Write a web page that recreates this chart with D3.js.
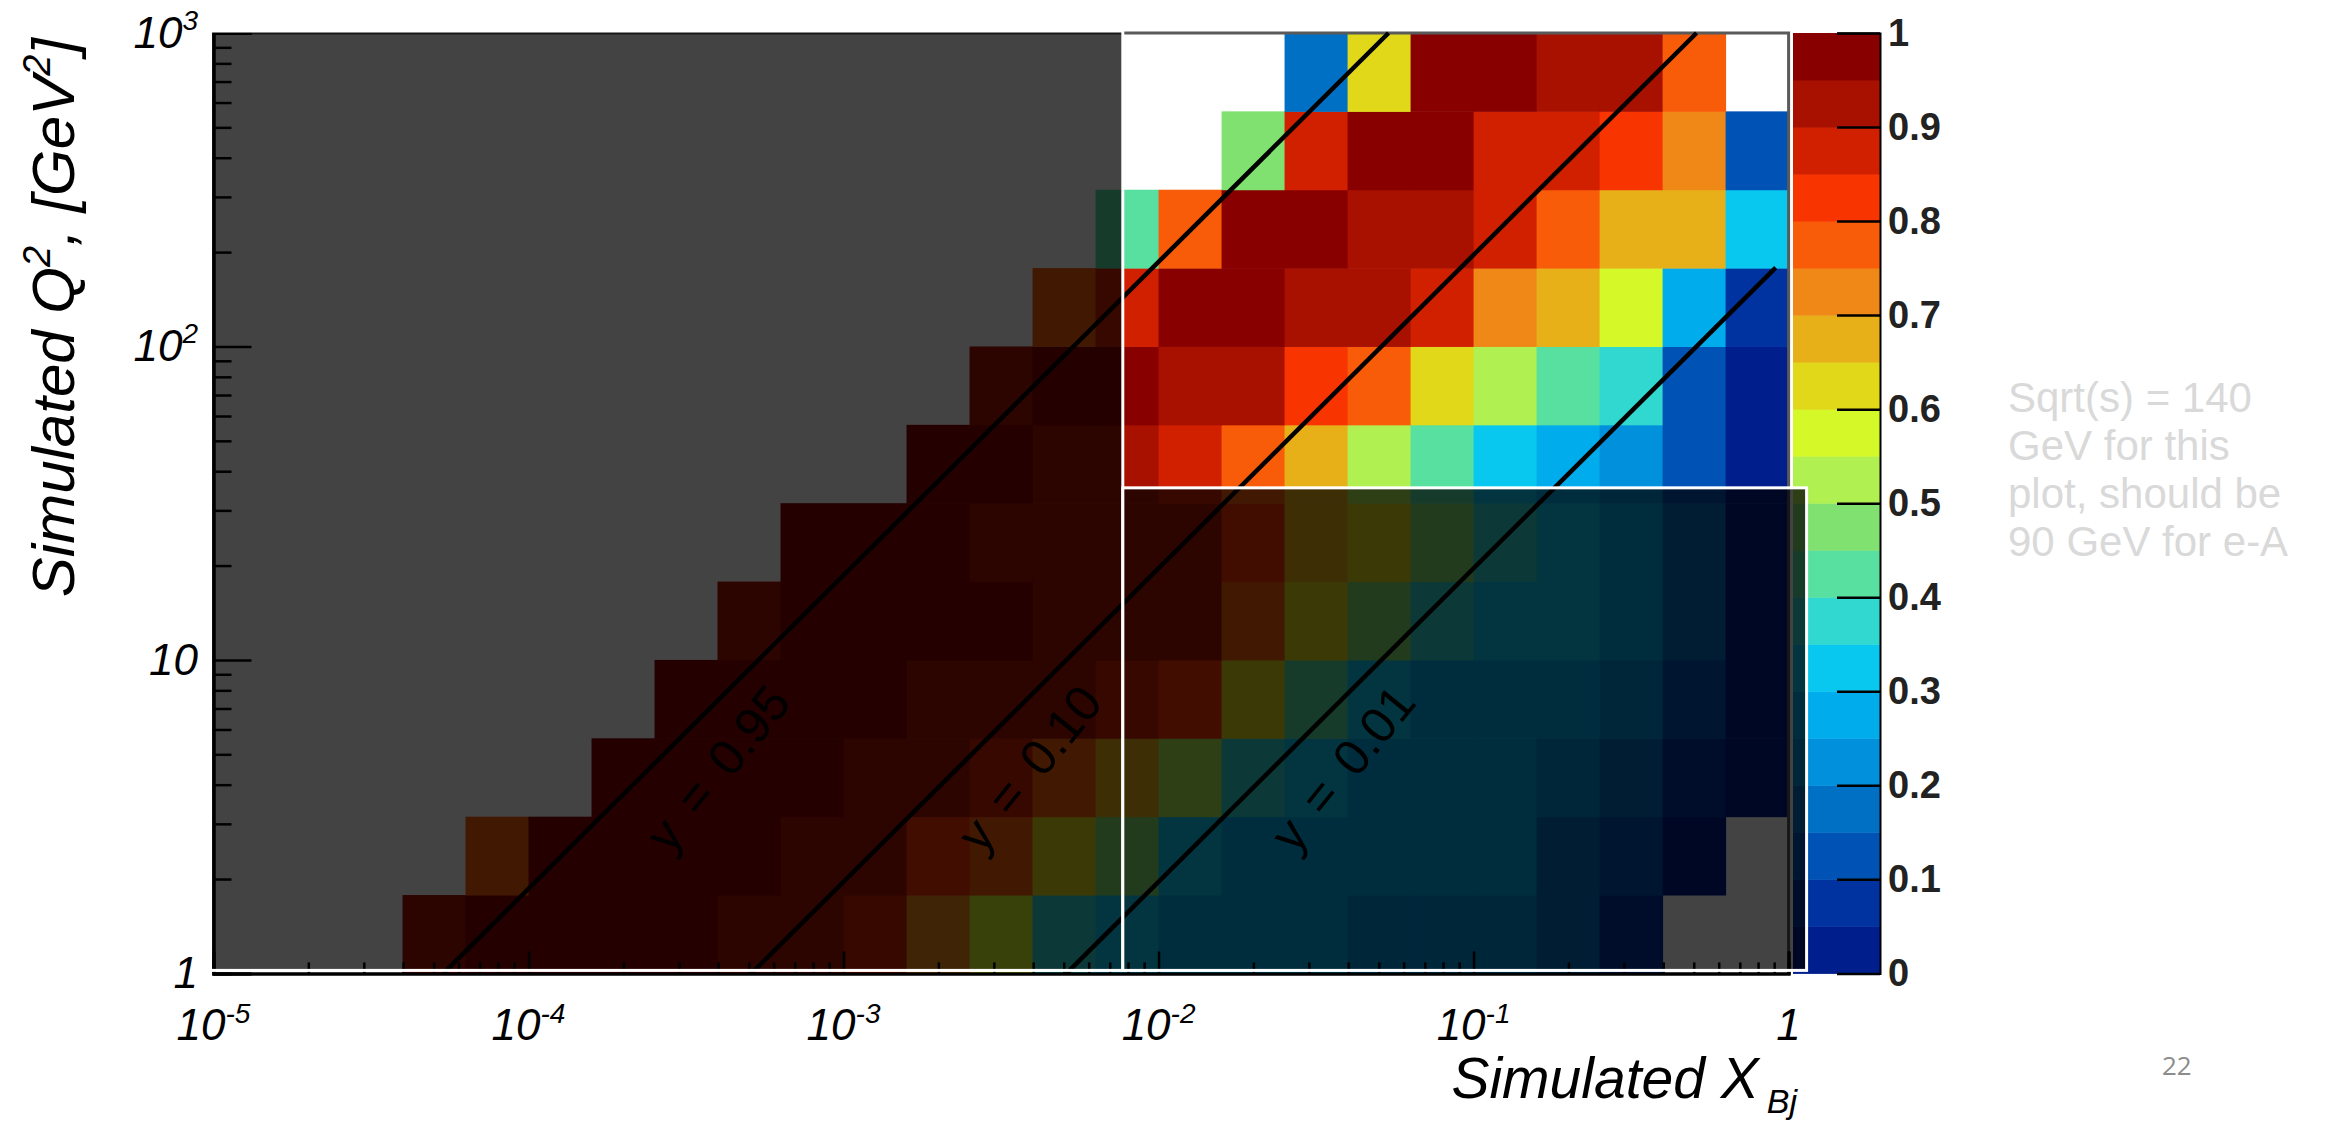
<!DOCTYPE html>
<html>
<head>
<meta charset="utf-8">
<script src="https://cdn.jsdelivr.net/npm/d3@7"></script>
<style>
  body { margin: 0; background: #fff; }
  svg text { font-family: "Liberation Sans", Arial, sans-serif; }
</style>
</head>
<body>
<div id="chart"></div>
<script>
// histogram binning (log10 of bin edges)
var xEdgeExp = [-5, -4.8, -4.6, -4.4, -4.2, -4, -3.8, -3.6, -3.4, -3.2, -3, -2.8, -2.6,
                -2.4, -2.2, -2, -1.8, -1.6, -1.4, -1.2, -1, -0.8, -0.6, -0.4, -0.2, 0];
var q2EdgeExp = [0, 0.25, 0.5, 0.75, 1, 1.25, 1.5, 1.75, 2, 2.25, 2.5, 2.75, 3];

// bin contents, one array per Q2 row (lowest Q2 first), null = empty bin
var n = null;
var q2Row0  = [n, n, n, 0.92, 0.95, 0.97, 0.97, 0.97, 0.93, 0.90, 0.87, 0.70, 0.55, 0.37, 0.32, 0.28, 0.27, 0.27, 0.23, 0.20, 0.20, 0.17, 0.07, n, n];
var q2Row1  = [n, n, n, n, 0.78, 0.97, 0.97, 0.97, 0.97, 0.93, 0.93, 0.83, 0.77, 0.62, 0.45, 0.33, 0.27, 0.27, 0.27, 0.25, 0.25, 0.18, 0.12, 0.03, n];
var q2Row2  = [n, n, n, n, n, n, 0.97, 0.97, 0.97, 0.97, 0.93, 0.93, 0.87, 0.77, 0.67, 0.53, 0.35, 0.30, 0.28, 0.27, 0.27, 0.24, 0.17, 0.05, 0.03];
var q2Row3  = [n, n, n, n, n, n, n, 0.97, 0.97, 0.97, 0.97, 0.93, 0.93, 0.90, 0.88, 0.82, 0.62, 0.42, 0.32, 0.28, 0.27, 0.27, 0.23, 0.13, 0.03];
var q2Row4  = [n, n, n, n, n, n, n, n, 0.93, 0.97, 0.97, 0.97, 0.97, 0.93, 0.92, 0.90, 0.78, 0.62, 0.47, 0.37, 0.32, 0.30, 0.27, 0.15, 0.03];
var q2Row5  = [n, n, n, n, n, n, n, n, n, 0.95, 0.97, 0.97, 0.93, 0.93, 0.93, 0.92, 0.82, 0.67, 0.62, 0.45, 0.38, 0.30, 0.27, 0.15, 0.03];
var q2Row6  = [n, n, n, n, n, n, n, n, n, n, n, 0.97, 0.97, 0.93, 0.92, 0.87, 0.78, 0.67, 0.52, 0.42, 0.32, 0.28, 0.22, 0.13, 0.03];
var q2Row7  = [n, n, n, n, n, n, n, n, n, n, n, n, 0.90, 0.97, 0.96, 0.92, 0.92, 0.82, 0.78, 0.62, 0.52, 0.42, 0.37, 0.13, 0.02];
var q2Row8  = [n, n, n, n, n, n, n, n, n, n, n, n, n, 0.78, 0.88, 0.96, 0.96, 0.92, 0.92, 0.87, 0.72, 0.67, 0.57, 0.28, 0.08];
var q2Row9  = [n, n, n, n, n, n, n, n, n, n, n, n, n, n, 0.42, 0.78, 0.97, 0.97, 0.92, 0.92, 0.87, 0.78, 0.67, 0.67, 0.32];
var q2Row10 = [n, n, n, n, n, n, n, n, n, n, n, n, n, n, n, n, 0.47, 0.87, 0.97, 0.97, 0.87, 0.87, 0.82, 0.72, 0.12];
var q2Row11 = [n, n, n, n, n, n, n, n, n, n, n, n, n, n, n, n, n, 0.18, 0.62, 0.97, 0.97, 0.92, 0.92, 0.78, n];
var q2Rows = [q2Row0, q2Row1, q2Row2, q2Row3, q2Row4, q2Row5, q2Row6, q2Row7, q2Row8, q2Row9, q2Row10, q2Row11];

// constant-inelasticity lines Q2 = x*y*s, sqrt(s) = 140 GeV
var sqrtS = 140;
var yValues = [0.95, 0.10, 0.01];
var yLabels = ["y = 0.95", "y = 0.10", "y = 0.01"];
var yLabelX = [4.0e-4, 3.9e-3, 0.0385];
var yLabelQ2 = 4.5;
var lineMaxX = 0.91;

// shaded (dimmed) regions, bright corner starts at these values
var brightMinX = 0.0077;
var brightMinQ2 = 35.4;

var xMajor = [1e-5, 1e-4, 1e-3, 1e-2, 1e-1, 1];
var xMajorExp = ["-5", "-4", "-3", "-2", "-1", ""];
var yMajor = [1, 10, 100, 1000];
var yMajorExp = ["", "", "2", "3"];
var zTicks = [0, 0.1, 0.2, 0.3, 0.4, 0.5, 0.6, 0.7, 0.8, 0.9, 1];

var palette = ["#001e8c", "#0032a0", "#0052b4", "#0070c4", "#0090dc", "#00acec", "#08c8f0",
               "#30d8d0", "#58e0a0", "#80e070", "#b0f050", "#d4f828", "#e0d818", "#e8b018",
               "#f08818", "#f85c08", "#f83400", "#d02000", "#a81000", "#880000"];

var noteLines = ["Sqrt(s) = 140", "GeV for this", "plot, should be", "90 GeV for e-A"];
var pageNumber = "22";

var width = 2341, height = 1123;
var plot = {left: 213.5, right: 1788.6, top: 33, bottom: 973.4};
var pal = {left: 1793, right: 1880};

var svg = d3.select("#chart").append("svg")
    .attr("width", width)
    .attr("height", height);

var x = d3.scaleLog().domain([1e-5, 1]).range([plot.left, plot.right]);
var y = d3.scaleLog().domain([1, 1000]).range([plot.bottom, plot.top]);
var z = d3.scaleLinear().domain([0, 1]).range([plot.bottom, plot.top]);
var color = d3.scaleQuantize().domain([0, 1]).range(palette);

// cells
var cells = [];
q2Rows.forEach(function(row, j) {
  row.forEach(function(v, k) {
    if (v !== null) cells.push({k: k, j: j, v: v});
  });
});
svg.append("g").selectAll("rect")
  .data(cells)
  .enter().append("rect")
    .attr("x", function(d) { return x(Math.pow(10, xEdgeExp[d.k])); })
    .attr("y", function(d) { return y(Math.pow(10, q2EdgeExp[d.j + 1])); })
    .attr("width", function(d) { return x(Math.pow(10, xEdgeExp[d.k + 1])) - x(Math.pow(10, xEdgeExp[d.k])) + 0.5; })
    .attr("height", function(d) { return y(Math.pow(10, q2EdgeExp[d.j])) - y(Math.pow(10, q2EdgeExp[d.j + 1])) + 0.5; })
    .attr("fill", function(d) { return color(d.v); });

// frame top/right
svg.append("path")
  .attr("d", "M" + plot.left + "," + plot.top + "H" + plot.right + "V" + plot.bottom)
  .attr("fill", "none").attr("stroke", "#5a5a5a").attr("stroke-width", 3);

// axes, ticks pointing inward
function minorTicks(lo, hi) {
  var out = [];
  for (var e = lo; e < hi; e++) for (var m = 2; m <= 9; m++) out.push(m * Math.pow(10, e));
  return out;
}
svg.append("g").attr("transform", "translate(0," + plot.bottom + ")")
  .call(d3.axisBottom(x).tickValues(xMajor).tickSize(-22).tickFormat(""));
svg.append("g").attr("transform", "translate(0," + plot.bottom + ")")
  .call(d3.axisBottom(x).tickValues(minorTicks(-5, 0)).tickSize(-11).tickFormat(""));
svg.append("g").attr("transform", "translate(" + plot.left + ",0)")
  .call(d3.axisLeft(y).tickValues(yMajor).tickSize(-38).tickFormat(""));
svg.append("g").attr("transform", "translate(" + plot.left + ",0)")
  .call(d3.axisLeft(y).tickValues(minorTicks(0, 3)).tickSize(-18).tickFormat(""));
svg.selectAll(".tick line").attr("stroke", "#000").attr("stroke-width", 2.5);
svg.selectAll(".domain").attr("stroke", "#000").attr("stroke-width", 3);

// y lines
var s = sqrtS * sqrtS;
var line = d3.line().x(function(d) { return x(d[0]); }).y(function(d) { return y(d[1]); });
var lineData = yValues.map(function(yv) {
  var x0 = 1 / (yv * s);
  var x1 = Math.min(1000 / (yv * s), lineMaxX);
  return [[x0, 1], [x1, x1 * yv * s]];
});
svg.append("g").selectAll("path")
  .data(lineData)
  .enter().append("path")
    .attr("d", line)
    .attr("fill", "none")
    .attr("stroke", "#000")
    .attr("stroke-width", 4.5);

svg.append("g").selectAll("text")
  .data(yLabels)
  .enter().append("text")
    .attr("transform", function(d, i) {
      return "translate(" + x(yLabelX[i]) + "," + y(yLabelQ2) + ") rotate(-51)";
    })
    .attr("text-anchor", "middle")
    .attr("dominant-baseline", "central")
    .style("font-size", "50px")
    .style("word-spacing", "8px")
    .attr("fill", "#000")
    .text(function(d) { return d; });

// dimming boxes
var boxes = [
  {x0: plot.left - 3, x1: x(brightMinX), y0: plot.top - 2, y1: plot.bottom - 3},
  {x0: x(brightMinX), x1: plot.right + 18, y0: y(brightMinQ2), y1: plot.bottom - 3}
];

// palette
var bands = palette.map(function(c, i) { return {c: c, lo: i / palette.length, hi: (i + 1) / palette.length}; });
svg.append("g").selectAll("rect")
  .data(bands)
  .enter().append("rect")
    .attr("x", pal.left)
    .attr("width", pal.right - pal.left)
    .attr("y", function(d) { return z(d.hi); })
    .attr("height", function(d) { return z(d.lo) - z(d.hi) + 0.5; })
    .attr("fill", function(d) { return d.c; });
var zAxis = svg.append("g").attr("transform", "translate(" + pal.right + ",0)")
  .call(d3.axisRight(z).tickValues(zTicks).tickSize(-43).tickPadding(8)
    .tickFormat(function(d) { return d === 0 || d === 1 ? String(d) : d3.format(".1f")(d); }));
zAxis.selectAll("line").attr("stroke", "#000").attr("stroke-width", 2.5);
zAxis.select(".domain").attr("stroke", "#000").attr("stroke-width", 2);
zAxis.selectAll("text").attr("fill", "#222")
  .style("font-size", "38px").style("font-weight", "bold");

svg.append("g").selectAll("rect")
  .data(boxes)
  .enter().append("rect")
    .attr("x", function(d) { return d.x0; })
    .attr("y", function(d) { return d.y0; })
    .attr("width", function(d) { return d.x1 - d.x0; })
    .attr("height", function(d) { return d.y1 - d.y0; })
    .attr("fill", "#000")
    .attr("fill-opacity", 0.737)
    .attr("stroke", "#fff")
    .attr("stroke-width", 3);

// tick labels
var xl = svg.append("g").selectAll("text")
  .data(xMajor)
  .enter().append("text")
    .attr("x", function(d) { return x(d); })
    .attr("y", 1040)
    .attr("text-anchor", "middle")
    .style("font-size", "44px")
    .style("font-style", "italic");
xl.append("tspan").text(function(d, i) { return xMajorExp[i] === "" ? "1" : "10"; });
xl.append("tspan")
  .attr("dy", -17)
  .style("font-size", "28px")
  .text(function(d, i) { return xMajorExp[i]; });

var yl = svg.append("g").selectAll("text")
  .data(yMajor)
  .enter().append("text")
    .attr("x", 198)
    .attr("y", function(d) { return y(d) + 15; })
    .attr("text-anchor", "end")
    .style("font-size", "44px")
    .style("font-style", "italic");
yl.append("tspan").text(function(d) { return d === 1 ? "1" : "10"; });
yl.append("tspan")
  .attr("dy", -18)
  .style("font-size", "28px")
  .text(function(d, i) { return yMajorExp[i]; });

// axis titles
var xt = svg.append("text")
  .attr("x", 1797)
  .attr("y", 1098)
  .attr("text-anchor", "end")
  .style("font-size", "57px")
  .style("font-style", "italic");
xt.append("tspan").text("Simulated X");
xt.append("tspan").attr("dx", 8).attr("dy", 15).style("font-size", "34px").text("Bj");

var yt = svg.append("text")
  .attr("transform", "translate(74,38) rotate(-90)")
  .attr("text-anchor", "end")
  .style("font-size", "60px")
  .style("font-style", "italic");
yt.append("tspan").text("Simulated Q");
yt.append("tspan").attr("dy", -24).style("font-size", "38px").text("2");
yt.append("tspan").attr("dy", 24).text(", [GeV");
yt.append("tspan").attr("dy", -24).style("font-size", "38px").text("2");
yt.append("tspan").attr("dy", 24).text("]");

// slide note
var note = svg.append("g").attr("transform", "translate(2008,412)");
note.selectAll("text")
  .data(noteLines)
  .enter().append("text")
    .attr("x", 0)
    .attr("y", function(d, i) { return i * 48; })
    .style("font-size", "42px")
    .attr("fill", "#d9d9d9")
    .text(function(d) { return d; });

svg.append("text")
  .attr("x", 2162)
  .attr("y", 1075)
  .style("font-family", "'Open Sans', sans-serif")
  .style("font-size", "26px")
  .attr("fill", "#8c8c8c")
  .text(pageNumber);
</script>
</body>
</html>
